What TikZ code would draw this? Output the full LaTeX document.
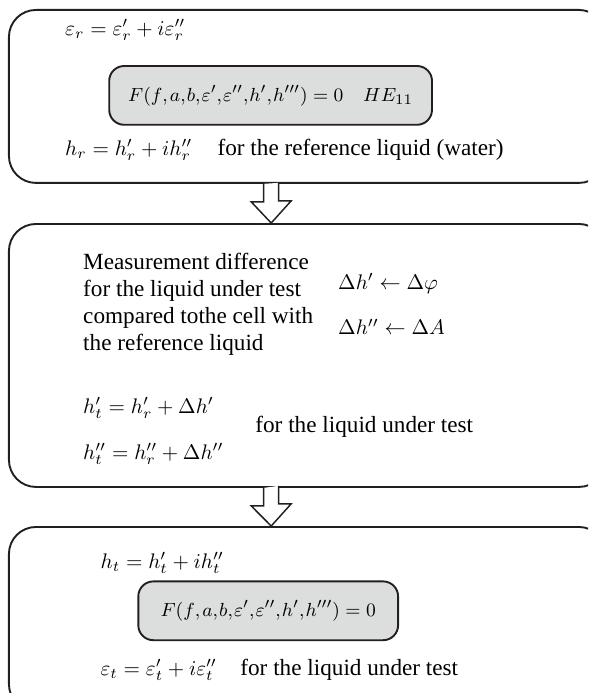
\documentclass[tikz,border=0pt]{standalone}
\usepackage{amsmath}
\usepackage{fontspec}
\setmainfont{Liberation Serif}
\usetikzlibrary{calc}
\definecolor{linegray}{HTML}{231F20}
\definecolor{boxgray}{HTML}{DCDDDD}
\newcommand{\Fargs}{F(f{,}\mskip2mu a{,}\mskip1mu b{,}\mskip1mu \varepsilon'{,}\mskip1mu \varepsilon''{,}\mskip1mu h'{,}\mskip1mu h''')}
\begin{document}
\begin{tikzpicture}[
                outerbox/.style={
                        draw=linegray, line width=0.9pt,
                        rounded corners=0.45cm,
                        anchor=north west, inner sep=0pt
                    },
                innerbox/.style={
                        draw=linegray, line width=0.9pt, fill=boxgray,
                        rounded corners=0.25cm,
                        minimum height=0.98cm, inner sep=0pt,
                        font=\fontsize{9.4}{12}\selectfont
                    },
                eqn/.style={anchor=west, inner sep=0pt, font=\fontsize{9.6}{12}\selectfont},
                txt/.style={anchor=west, inner sep=0pt, font=\fontsize{11}{12.8}\selectfont},
                blockarrow/.style={draw=linegray, line width=0.7pt, fill=white}
            ]

            \clip (0, 0) rectangle (9.8, -11.55);
            \coordinate (ax) at (4.52, 0);

            % Top box: reference liquid
            \node[outerbox, minimum width=9.95cm, minimum height=2.883cm] (top) at (0.133, -0.15) {};
            \node[eqn] (epsr) at (1.08, -0.5) {$\varepsilon_r = \varepsilon'_r + i\varepsilon''_r$};
            \node[innerbox, minimum width=5.38cm] (Ftop) at (4.51, -1.59)
                {$\Fargs = 0 \quad HE_{11}$};
            \node[eqn] (hr) at (1.08, -2.5) {$h_r = h'_r + ih''_r$};
            \node[txt] (refl) at (3.62, -2.5) {for the reference liquid (water)};

            % Middle box: measurement difference
            \node[outerbox, minimum width=9.95cm, minimum height=4.383cm] (mid) at (0.133, -3.717) {};
            \node[txt, align=left] (meas) at (1.38, -5.07)
                {Measurement difference\\for the liquid under test\\compared tothe cell with\\the reference liquid};
            \node[eqn] (dhp) at (5.63, -4.72) {$\Delta h' \leftarrow \Delta\varphi$};
            \node[eqn] (dhpp) at (5.63, -5.45) {$\Delta h'' \leftarrow \Delta A$};
            \node[eqn] (htp) at (1.38, -6.8) {$h'_t = h'_r + \Delta h'$};
            \node[eqn] (htpp) at (1.38, -7.57) {$h''_t = h''_r + \Delta h''$};
            \node[txt] (testl) at (4.25, -7.12) {for the liquid under test};

            % Bottom box: liquid under test
            \node[outerbox, minimum width=9.95cm, minimum height=3.07cm] (bot) at (0.133, -8.767) {};
            \node[eqn] (ht) at (1.67, -9.38) {$h_t = h'_t + ih''_t$};
            \node[innerbox, minimum width=4.33cm] (Fbot) at (4.47, -10.18)
                {$\Fargs = 0$};
            \node[eqn] (epst) at (1.67, -11.17) {$\varepsilon_t = \varepsilon'_t + i\varepsilon''_t$};
            \node[txt] (testb) at (4.0, -11.17) {for the liquid under test};

            % Hollow arrows between the boxes
            \draw[blockarrow] (top.south -| ax) ++(-0.125, 0) -- ++(0, -0.3) -- ++(-0.208, 0)
                -- (mid.north -| ax) -- ++(0.333, 0.37) -- ++(-0.208, 0) -- ++(0, 0.3);
            \draw[blockarrow] (mid.south -| ax) ++(-0.125, 0) -- ++(0, -0.3) -- ++(-0.208, 0)
                -- (bot.north -| ax) -- ++(0.333, 0.37) -- ++(-0.208, 0) -- ++(0, 0.3);

        \end{tikzpicture}
\end{document}
